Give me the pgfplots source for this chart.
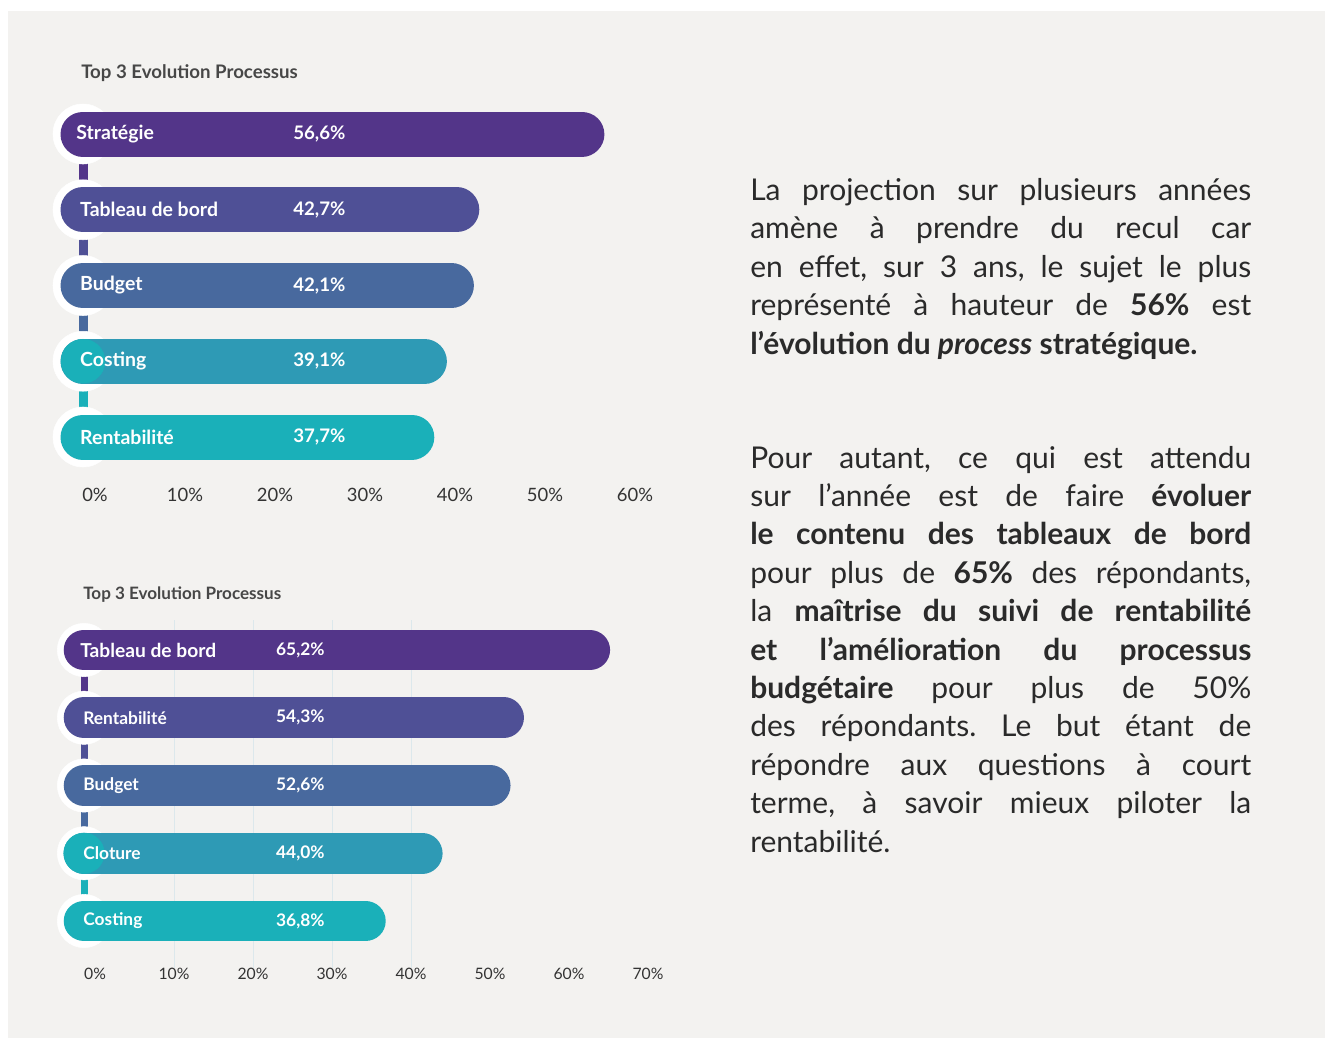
\documentclass[border=0pt]{standalone}
\usepackage{pgfplots}
\pgfplotsset{compat=1.18}
\usepackage{fontspec}
\setmainfont{Lato}
\frenchspacing
\definecolor{bgc}{HTML}{F3F2F0}
\definecolor{c1}{HTML}{533589}
\definecolor{c2}{HTML}{4F5096}
\definecolor{c3}{HTML}{48699E}
\definecolor{c4}{HTML}{2E9AB5}
\definecolor{c5}{HTML}{1AB0B9}
\definecolor{gridc}{HTML}{DCE8EC}
\definecolor{titlec}{HTML}{474747}
\definecolor{tickc}{HTML}{333333}
\definecolor{bodyc}{HTML}{2A2A2A}
\newcommand\fs[1]{\fontsize{#1}{#1}\selectfont}
\newcommand\jl[1]{\makebox[375.75pt][s]{#1}}
\begin{document}
\frenchspacing
\begin{tikzpicture}[x=0.75pt,y=-0.75pt]
\useasboundingbox (0,0) rectangle (1325,1038);
\fill[white] (0,0) rectangle (1325,1038);
\fill[bgc] (8,11) rectangle (1325,1038);

\node[anchor=west, inner sep=0pt, font=\fs{14pt}\bfseries, text=titlec] at (81,73) {Top 3 Evolution Processus};
\node[anchor=west, inner sep=0pt, font=\fs{12.8pt}\bfseries, text=titlec] at (83,595) {Top 3 Evolution Processus};

% ---------- top chart ----------
\begin{axis}[
  at={(71.25pt,-327.75pt)}, anchor=origin,
  x=6.75pt, y=56.81pt,
  xmin=-5, xmax=62, ymin=-0.67, ymax=4.6,
  axis line style={draw=none}, major tick length=0pt,
  xtick={0,10,20,30,40,50,60},
  xticklabels={0\%,10\%,20\%,30\%,40\%,50\%,60\%},
  xticklabel style={font=\fs{13.8pt}, text=tickc, anchor=north, inner sep=0pt},
  ytick=\empty, clip=false, clip marker paths=true,
]
\addplot[c1, line width=6.75pt, xshift=-9pt, mark=none] coordinates {(0,4) (0,3)};
\addplot[c2, line width=6.75pt, xshift=-9pt, mark=none] coordinates {(0,3) (0,2)};
\addplot[c3, line width=6.75pt, xshift=-9pt, mark=none] coordinates {(0,2) (0,1)};
\addplot[c5, line width=6.75pt, xshift=-9pt, mark=none] coordinates {(0,1) (0,0)};
\addplot[white, only marks, mark=*, mark size=22.5pt, mark options={fill=white, draw=white, xshift=-9pt}] coordinates {(0,4) (0,3) (0,2) (0,1) (0,0)};
\addplot[c1, line width=33.75pt, line cap=round, shorten >=16.875pt, shorten <=-9pt, mark=none] coordinates {(0,4) (56.6,4)};
\addplot[c2, line width=33.75pt, line cap=round, shorten >=16.875pt, shorten <=-9pt, mark=none] coordinates {(0,3) (42.7,3)};
\addplot[c3, line width=33.75pt, line cap=round, shorten >=16.875pt, shorten <=-9pt, mark=none] coordinates {(0,2) (42.1,2)};
\addplot[c4, line width=33.75pt, line cap=round, shorten >=16.875pt, shorten <=-9pt, mark=none] coordinates {(0,1) (39.1,1)};
\addplot[c5, line width=33.75pt, line cap=round, shorten >=16.875pt, shorten <=-9pt, mark=none] coordinates {(0,0) (37.7,0)};
\addplot[c5, only marks, mark=*, mark size=16.5pt, mark options={fill=c5, draw=c5, xshift=-9pt}] coordinates {(0,1)};
\begin{scope}[every node/.style={anchor=west, inner sep=0pt, text=white, font=\fs{14.6pt}\bfseries}]
\node at (-2.1,4) {Stratégie};
\node at (-1.67,3) {Tableau de bord};
\node at (-1.67,2) {Budget};
\node at (-1.67,1) {Costing};
\node at (-1.67,0) {Rentabilité};
\end{scope}
\begin{scope}[every node/.style={anchor=west, inner sep=0pt, text=white, font=\fs{14pt}\bfseries}]
\node at (22,4) {56,6\%};
\node at (22,3) {42,7\%};
\node at (22,2) {42,1\%};
\node at (22,1) {39,1\%};
\node at (22,0) {37,7\%};
\end{scope}
\end{axis}

% ---------- bottom chart ----------
\begin{axis}[
  at={(71.25pt,-690.75pt)}, anchor=origin,
  x=5.925pt, y=50.81pt,
  xmin=-5, xmax=72, ymin=-0.69, ymax=4.45,
  axis line style={draw=none}, major tick length=0pt,
  xtick={0,10,20,30,40,50,60,70},
  xticklabels={0\%,10\%,20\%,30\%,40\%,50\%,60\%,70\%},
  xticklabel style={font=\fs{11.8pt}, text=tickc, anchor=north, inner sep=0pt},
  extra x ticks={10,20,30,40}, extra x tick labels={},
  extra x tick style={grid=major, major grid style={draw=gridc, line width=0.75pt}},
  ytick=\empty, clip=false, clip marker paths=true,
]
\addplot[c1, line width=5.25pt, xshift=-8.25pt, mark=none] coordinates {(0,4) (0,3)};
\addplot[c2, line width=5.25pt, xshift=-8.25pt, mark=none] coordinates {(0,3) (0,2)};
\addplot[c3, line width=5.25pt, xshift=-8.25pt, mark=none] coordinates {(0,2) (0,1)};
\addplot[c5, line width=5.25pt, xshift=-8.25pt, mark=none] coordinates {(0,1) (0,0)};
\addplot[white, only marks, mark=*, mark size=20pt, mark options={fill=white, draw=white, xshift=-8.25pt}] coordinates {(0,4) (0,3) (0,2) (0,1) (0,0)};
\addplot[c1, line width=30.4pt, line cap=round, shorten >=15.2pt, shorten <=-8.25pt, mark=none] coordinates {(0,4) (65.2,4)};
\addplot[c2, line width=30.4pt, line cap=round, shorten >=15.2pt, shorten <=-8.25pt, mark=none] coordinates {(0,3) (54.3,3)};
\addplot[c3, line width=30.4pt, line cap=round, shorten >=15.2pt, shorten <=-8.25pt, mark=none] coordinates {(0,2) (52.6,2)};
\addplot[c4, line width=30.4pt, line cap=round, shorten >=15.2pt, shorten <=-8.25pt, mark=none] coordinates {(0,1) (44.0,1)};
\addplot[c5, line width=30.4pt, line cap=round, shorten >=15.2pt, shorten <=-8.25pt, mark=none] coordinates {(0,0) (36.8,0)};
\addplot[c5, only marks, mark=*, mark size=15.2pt, mark options={fill=c5, draw=c5, xshift=-8.25pt}] coordinates {(0,1)};
\begin{scope}[every node/.style={anchor=west, inner sep=0pt, text=white, font=\fs{13pt}\bfseries}]
\node[font=\fs{14.4pt}\bfseries] at (-1.9,4) {Tableau de bord};
\node at (-1.5,3) {Rentabilité};
\node at (-1.5,2) {Budget};
\node at (-1.5,1) {Cloture};
\node at (-1.5,0) {Costing};
\end{scope}
\begin{scope}[every node/.style={anchor=west, inner sep=0pt, text=white, font=\fs{13pt}\bfseries}]
\node at (22.9,4) {65,2\%};
\node at (22.9,3) {54,3\%};
\node at (22.9,2) {52,6\%};
\node at (22.9,1) {44,0\%};
\node at (22.9,0) {36,8\%};
\end{scope}
\end{axis}

% ---------- text ----------
\begin{scope}[every node/.style={anchor=base west, inner sep=0pt, text=bodyc, font=\fs{22.5pt}}]
\node at (750,200) {\jl{La projection sur plusieurs années}};
\node at (750,238.5) {\jl{amène à prendre du recul car}};
\node at (750,277) {\jl{en effet, sur 3 ans, le sujet le plus}};
\node at (750,315.5) {\jl{représenté à hauteur de \textbf{56\%} est}};
\node at (750,354) {\textbf{l’évolution du \textit{process} stratégique.}};

\node at (750,468) {\jl{Pour autant, ce qui est attendu}};
\node at (750,506.4) {\jl{sur l’année est de faire \textbf{évoluer}}};
\node at (750,544.8) {\jl{\textbf{le contenu des tableaux de bord}}};
\node at (750,583.2) {\jl{pour plus de \textbf{65\%} des répondants,}};
\node at (750,621.6) {\jl{la \textbf{maîtrise du suivi de rentabilité}}};
\node at (750,660) {\jl{\textbf{et l’amélioration du processus}}};
\node at (750,698.4) {\jl{\textbf{budgétaire} pour plus de 50\%}};
\node at (750,736.8) {\jl{des répondants. Le but étant de}};
\node at (750,775.2) {\jl{répondre aux questions à court}};
\node at (750,813.6) {\jl{terme, à savoir mieux piloter la}};
\node at (750,852) {rentabilité.};
\end{scope}
\end{tikzpicture}
\end{document}
